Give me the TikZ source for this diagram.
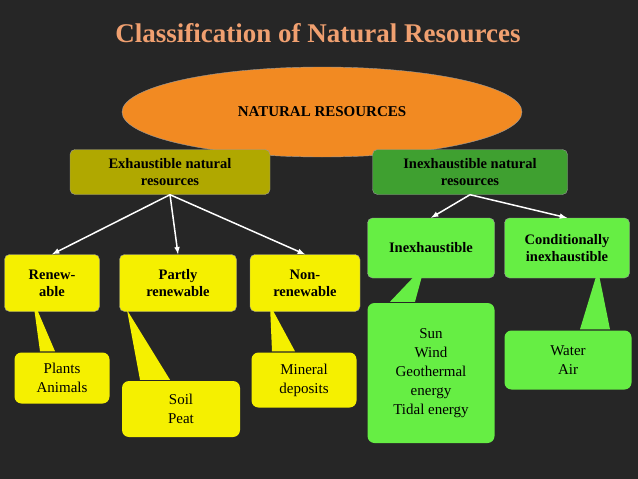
\documentclass[tikz,border=0pt]{standalone}
\usepackage{fontspec}
\setmainfont{Liberation Serif}
\usetikzlibrary{shapes.geometric}
\definecolor{bgdark}{HTML}{262626}
\definecolor{titleor}{HTML}{F0A070}
\definecolor{ellor}{HTML}{F28A22}
\definecolor{olivebox}{HTML}{B0A800}
\definecolor{greenbox}{HTML}{3FA030}
\definecolor{yellowbox}{HTML}{F5F000}
\definecolor{limebox}{HTML}{66EE44}
\tikzset{
  boxnode/.style={draw=black!40, rounded corners=5pt, align=center, inner sep=2pt, font=\bfseries\fontsize{14.5}{17}\selectfont},
  callout/.style={rounded corners=7pt, align=center, inner sep=2pt, font=\fontsize{15}{19}\selectfont},
  arr/.style={white, line width=1.5pt, -latex}
}
\begin{document}
\begin{tikzpicture}[x=1pt, y=-1pt]
    % Background
    \fill[bgdark] (0,0) rectangle (638,479);
    \useasboundingbox (0,0) rectangle (638,479);

    % Title
    \node[text=titleor, font=\bfseries\fontsize{27}{30}\selectfont] (title) at (318,33) {Classification of Natural Resources};

    % Root
    \node[ellipse, fill=ellor, draw=black!40, minimum width=400pt, minimum height=90pt, font=\bfseries\fontsize{15}{17}\selectfont] (root) at (322,112) {NATURAL RESOURCES};

    % Second level
    \node[boxnode, fill=olivebox, minimum width=200pt, minimum height=45pt] (exh) at (170,172) {Exhaustible natural\\resources};
    \node[boxnode, fill=greenbox, minimum width=195pt, minimum height=45pt] (inexh) at (470,172) {Inexhaustible natural\\resources};

    % Third level
    \node[boxnode, fill=yellowbox, minimum width=95pt, minimum height=57pt] (renew) at (52,283) {Renew-\\able};
    \node[boxnode, fill=yellowbox, minimum width=117pt, minimum height=57pt] (partly) at (178,283) {Partly\\renewable};
    \node[boxnode, fill=yellowbox, minimum width=110pt, minimum height=57pt] (nonren) at (305,283) {Non-\\renewable};
    \node[boxnode, fill=limebox, minimum width=127pt, minimum height=60pt] (inex) at (431,248) {Inexhaustible};
    \node[boxnode, fill=limebox, minimum width=125pt, minimum height=60pt] (cond) at (567,248) {Conditionally\\inexhaustible};

    % Arrows
    \draw[arr] (exh.south) -- (renew.north);
    \draw[arr] (exh.south) -- (partly.north);
    \draw[arr] (exh.south) -- (nonren.north);
    \draw[arr] (inexh.south) -- (inex.north);
    \draw[arr] (inexh.south) -- (cond.north);

    % Callouts
    \node[callout, fill=yellowbox, minimum width=95pt, minimum height=51pt] (plants) at (62,378) {Plants\\Animals};
    \node[callout, fill=yellowbox, minimum width=118pt, minimum height=56pt] (soil) at (181,409) {Soil\\Peat};
    \node[callout, fill=yellowbox, minimum width=105pt, minimum height=55pt] (mineral) at (304,380) {Mineral\\deposits};
    \node[callout, fill=limebox, minimum width=127pt, minimum height=140pt] (sun) at (431,373) {Sun\\Wind\\Geothermal\\energy\\Tidal energy};
    \node[callout, fill=limebox, minimum width=127pt, minimum height=59pt] (water) at (568,360) {Water\\Air};

    % Pointers
    \coordinate (tipA) at (33,300);
    \coordinate (tipB) at (127,310);
    \coordinate (tipC) at (270,305);
    \coordinate (tipD) at (425,265);
    \coordinate (tipE) at (598,270);
    \fill[yellowbox] (tipA) -- ([xshift=-22pt, yshift=1pt]plants.north) -- ([xshift=-7pt, yshift=1pt]plants.north) -- cycle;
    \fill[yellowbox] (tipB) -- ([xshift=-41pt, yshift=1pt]soil.north) -- ([xshift=-11pt, yshift=1pt]soil.north) -- cycle;
    \fill[yellowbox] (tipC) -- ([xshift=-32pt, yshift=1pt]mineral.north) -- ([xshift=-9pt, yshift=1pt]mineral.north) -- cycle;
    \fill[limebox] (tipD) -- ([xshift=-41pt, yshift=1pt]sun.north) -- ([xshift=-16pt, yshift=1pt]sun.north) -- cycle;
    \fill[limebox] (tipE) -- ([xshift=12pt, yshift=1pt]water.north) -- ([xshift=42pt, yshift=1pt]water.north) -- cycle;
\end{tikzpicture}
\end{document}
